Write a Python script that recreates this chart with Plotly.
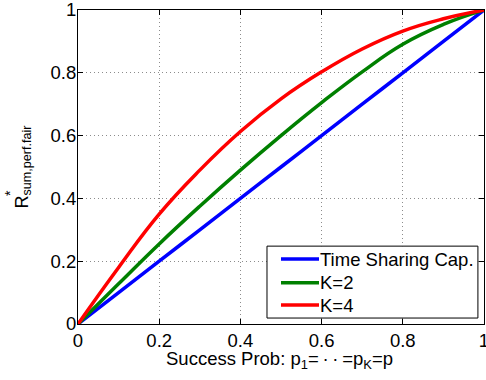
import plotly.graph_objects as go

p = [0.0, 0.1, 0.2, 0.3, 0.4, 0.5, 0.6, 0.7, 0.8, 0.9, 1.0]
time_sharing = [0.0, 0.1, 0.2, 0.3, 0.4, 0.5, 0.6, 0.7, 0.8, 0.9, 1.0]
k2 = [0.0, 0.128, 0.255, 0.375, 0.49, 0.6, 0.705, 0.803, 0.891, 0.954, 1.0]
k4 = [0.0, 0.18, 0.35, 0.49, 0.613, 0.717, 0.803, 0.876, 0.933, 0.972, 1.0]

tick_vals = [0, 0.2, 0.4, 0.6, 0.8, 1]
tick_text = ["0", "0.2", "0.4", "0.6", "0.8", "1"]

names = ["Time Sharing Cap.", "K=2", "K=4"]
colors = ["#0000FF", "#008000", "#FF0000"]

FONT = "Liberation Sans, Arial, Helvetica, sans-serif"

fig = go.Figure()
for name, vals, col in zip(names, [time_sharing, k2, k4], colors):
    fig.add_trace(go.Scatter(x=p, y=vals, mode="lines", name=name, showlegend=False,
                             line=dict(color=col, width=3.5, shape="spline", smoothing=1.3)))

axis_common = dict(
    range=[0, 1], tickvals=tick_vals, ticktext=tick_text,
    showline=True, linecolor="black", linewidth=1, mirror="allticks",
    ticks="inside", ticklen=5, tickcolor="black",
    showgrid=True, gridcolor="#8c8c8c", griddash="1px,3px", gridwidth=1,
    zeroline=False, tickfont=dict(family=FONT, size=18.5, color="black"),
    automargin=False, ticklabeloverflow="allow",
)
fig.update_xaxes(**axis_common)
fig.update_yaxes(**axis_common, ticklabelstandoff=-3)

# legend box drawn in paper coordinates (MATLAB-style legend)
leg_x0, leg_x1, leg_y0, leg_y1 = 0.4655, 0.985, 0.019, 0.248
sample_x0, sample_x1, text_x = 0.50, 0.5936, 0.591
row_y = [0.207, 0.131, 0.0605]

shapes = [dict(type="rect", xref="paper", yref="paper", x0=leg_x0, x1=leg_x1,
               y0=leg_y0, y1=leg_y1, line=dict(color="black", width=1),
               fillcolor="white", layer="above")]
annotations = []
for name, col, ry in zip(names, colors, row_y):
    shapes.append(dict(type="line", xref="paper", yref="paper", x0=sample_x0, x1=sample_x1,
                       y0=ry, y1=ry, line=dict(color=col, width=3.5), layer="above"))
    annotations.append(dict(text=name, xref="paper", yref="paper", x=text_x, y=ry,
                            xanchor="left", yanchor="middle", showarrow=False,
                            font=dict(family=FONT, size=18.5, color="black")))

annotations += [
    dict(text="Success Prob: p<sub>1</sub>=\u2009·\u2009·\u2009=p<sub>K</sub>=p",
         xref="paper", yref="paper", x=0.4975, y=0, xanchor="center", yanchor="top",
         yshift=-22, showarrow=False, font=dict(family=FONT, size=18.5)),
    dict(text="R<sub>sum,perf.fair</sub>", textangle=-90,
         xref="paper", yref="paper", x=0, y=0.5, xanchor="right", yanchor="middle",
         xshift=-42, showarrow=False, font=dict(family=FONT, size=18)),
    dict(text="*", textangle=-90,
         xref="paper", yref="paper", x=0, y=0.5, xanchor="right", yanchor="middle",
         xshift=-58, yshift=-26, showarrow=False, font=dict(family=FONT, size=14)),
]

fig.update_layout(
    width=486, height=380,
    margin=dict(l=78, r=2, t=10, b=56),
    plot_bgcolor="white", paper_bgcolor="white",
    font=dict(family=FONT, size=18, color="black"),
    showlegend=False,
    shapes=shapes,
    annotations=annotations,
)

fig.write_html("out.html", config={"displayModeBar": False},
               post_script="document.body.style.margin='0px';")
